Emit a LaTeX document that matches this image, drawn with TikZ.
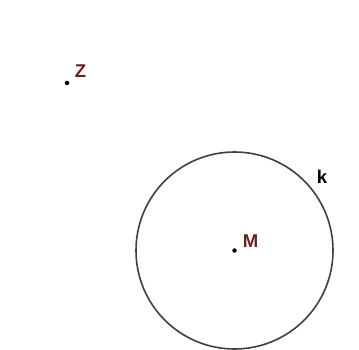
\documentclass[tikz,border=0pt]{standalone}
\usepackage{fontspec}
\setmainfont{Liberation Sans}
\usetikzlibrary{positioning}
\definecolor{ptlabel}{HTML}{6B1F1F}
\begin{document}
\begin{tikzpicture}[
    x=1pt, y=1pt,
    dot/.style={circle, fill=black, inner sep=0pt, minimum size=4.5pt},
    ptname/.style={text=ptlabel, font=\fontsize{18.5}{18.5}\selectfont\bfseries, inner sep=0pt},
    rim/.style={circle, draw=black!75, line width=1.6pt, inner sep=0pt, minimum size=197pt}
  ]
  \useasboundingbox (0,0) rectangle (359,349);
  \node[dot] (Z) at (67,266) {};
  \node[dot] (M) at (234.5,98.5) {};
  \node[rim] (k) at (M) {};
  \node[ptname, above right=4pt and 6pt of Z] (Zl) {Z};
  \node[ptname, above right=1.5pt and 6.5pt of M] (Ml) {M};
  \node[ptname, text=black, above right=-3pt and 12pt of k.45] (kl) {k};
\end{tikzpicture}
\end{document}
